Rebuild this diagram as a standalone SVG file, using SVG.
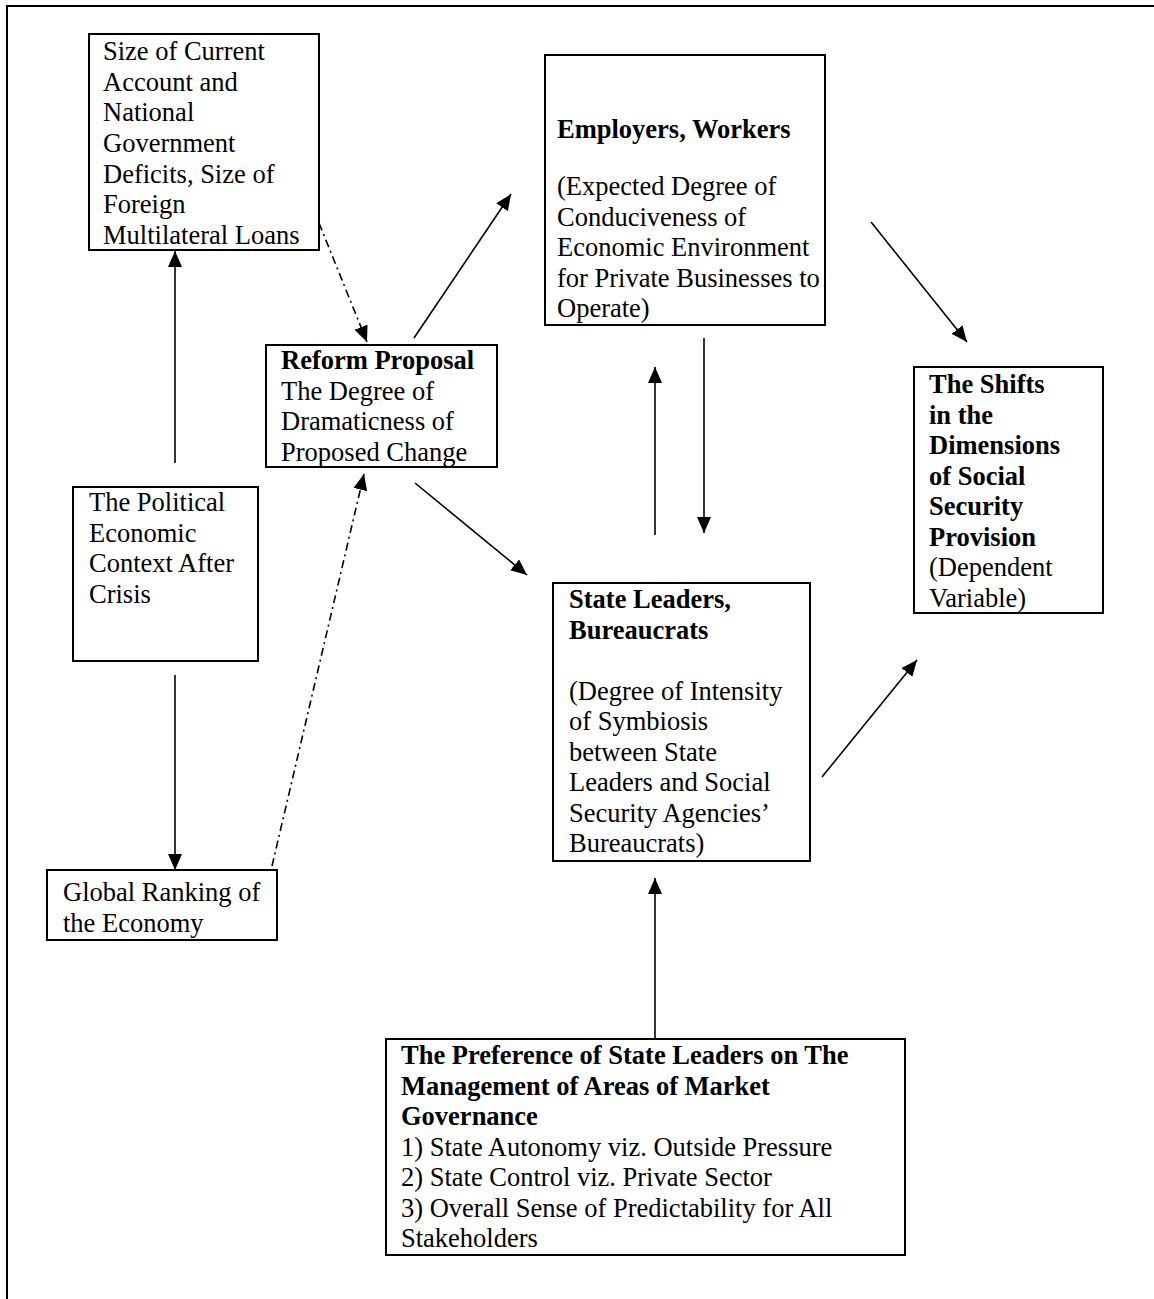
<svg xmlns="http://www.w3.org/2000/svg" width="1154" height="1299" viewBox="0 0 1154 1299">
<style>
.box{fill:#fff;stroke:#000;stroke-width:2}
.t{font-family:"Liberation Serif","Times New Roman",serif;font-size:26.5px;fill:#000}
.b{font-weight:bold}
.c{fill:none;stroke:#000;stroke-width:1.6}
.dd{stroke-dasharray:8 4 2 4}
.frame{fill:none;stroke:#000;stroke-width:2}
</style>
<defs>
<marker id="ah" markerUnits="userSpaceOnUse" markerWidth="16" markerHeight="14" refX="16" refY="7" orient="auto">
<path d="M0,0 L16,7 L0,14 z" fill="#000" stroke="none"/>
</marker>
</defs>
<rect width="1154" height="1299" fill="#fff"/>
<path class="frame" d="M1154,6 H7 V1299"/>

<g id="node-deficits">
<rect class="box" x="89" y="34" width="230" height="216"/>
<text class="t" x="103" y="60">Size of Current</text>
<text class="t" x="103" y="90.7">Account and</text>
<text class="t" x="103" y="121.3">National</text>
<text class="t" x="103" y="152">Government</text>
<text class="t" x="103" y="182.6">Deficits, Size of</text>
<text class="t" x="103" y="213.3">Foreign</text>
<text class="t" x="103" y="244">Multilateral Loans</text>
</g>

<g id="node-employers">
<rect class="box" x="545" y="55" width="280" height="270"/>
<text class="t b" x="557" y="138">Employers, Workers</text>
<text class="t" x="557" y="195">(Expected Degree of</text>
<text class="t" x="557" y="225.5">Conduciveness of</text>
<text class="t" x="557" y="256">Economic Environment</text>
<text class="t" x="557" y="286.5">for Private Businesses to</text>
<text class="t" x="557" y="317">Operate)</text>
</g>

<g id="node-reform">
<rect class="box" x="266" y="345" width="231" height="122"/>
<text class="t b" x="281" y="369">Reform Proposal</text>
<text class="t" x="281" y="399.7">The Degree of</text>
<text class="t" x="281" y="430.3">Dramaticness of</text>
<text class="t" x="281" y="461">Proposed Change</text>
</g>

<g id="node-shifts">
<rect class="box" x="914" y="367" width="189" height="246"/>
<text class="t b" x="929" y="393">The Shifts</text>
<text class="t b" x="929" y="423.5">in the</text>
<text class="t b" x="929" y="454">Dimensions</text>
<text class="t b" x="929" y="484.5">of Social</text>
<text class="t b" x="929" y="515">Security</text>
<text class="t b" x="929" y="545.5">Provision</text>
<text class="t" x="929" y="576">(Dependent</text>
<text class="t" x="929" y="606.5">Variable)</text>
</g>

<g id="node-context">
<rect class="box" x="73" y="487" width="185" height="174"/>
<text class="t" x="89" y="511">The Political</text>
<text class="t" x="89" y="541.5">Economic</text>
<text class="t" x="89" y="572">Context After</text>
<text class="t" x="89" y="602.5">Crisis</text>
</g>

<g id="node-state">
<rect class="box" x="553" y="583" width="257" height="278"/>
<text class="t b" x="569" y="608">State Leaders,</text>
<text class="t b" x="569" y="638.5">Bureaucrats</text>
<text class="t" x="569" y="699.5">(Degree of Intensity</text>
<text class="t" x="569" y="730">of Symbiosis</text>
<text class="t" x="569" y="760.5">between State</text>
<text class="t" x="569" y="791">Leaders and Social</text>
<text class="t" x="569" y="821.5">Security Agencies’</text>
<text class="t" x="569" y="852">Bureaucrats)</text>
</g>

<g id="node-ranking">
<rect class="box" x="47" y="870" width="230" height="70"/>
<text class="t" x="63" y="901">Global Ranking of</text>
<text class="t" x="63" y="932">the Economy</text>
</g>

<g id="node-preference">
<rect class="box" x="386" y="1039" width="519" height="216"/>
<text class="t b" x="401" y="1064">The Preference of State Leaders on The</text>
<text class="t b" x="401" y="1094.5">Management of Areas of Market</text>
<text class="t b" x="401" y="1125">Governance</text>
<text class="t" x="401" y="1155.5">1) State Autonomy viz. Outside Pressure</text>
<text class="t" x="401" y="1186">2) State Control viz. Private Sector</text>
<text class="t" x="401" y="1216.5">3) Overall Sense of Predictability for All</text>
<text class="t" x="401" y="1247">Stakeholders</text>
</g>

<g id="connectors">
<line class="c" x1="175" y1="463" x2="175" y2="251" marker-end="url(#ah)"/>
<line class="c" x1="175" y1="675" x2="175" y2="870" marker-end="url(#ah)"/>
<line class="c dd" x1="319" y1="223" x2="367" y2="342" marker-end="url(#ah)"/>
<line class="c dd" x1="272" y1="866" x2="364" y2="474" marker-end="url(#ah)"/>
<line class="c" x1="414" y1="338" x2="511" y2="194" marker-end="url(#ah)"/>
<line class="c" x1="871" y1="222" x2="967" y2="342" marker-end="url(#ah)"/>
<line class="c" x1="415" y1="483" x2="527" y2="575" marker-end="url(#ah)"/>
<line class="c" x1="822" y1="777" x2="917" y2="660" marker-end="url(#ah)"/>
<line class="c" x1="655" y1="535" x2="655" y2="367" marker-end="url(#ah)"/>
<line class="c" x1="704" y1="338" x2="704" y2="533" marker-end="url(#ah)"/>
<line class="c" x1="655" y1="1039" x2="655" y2="878" marker-end="url(#ah)"/>
</g>
</svg>
